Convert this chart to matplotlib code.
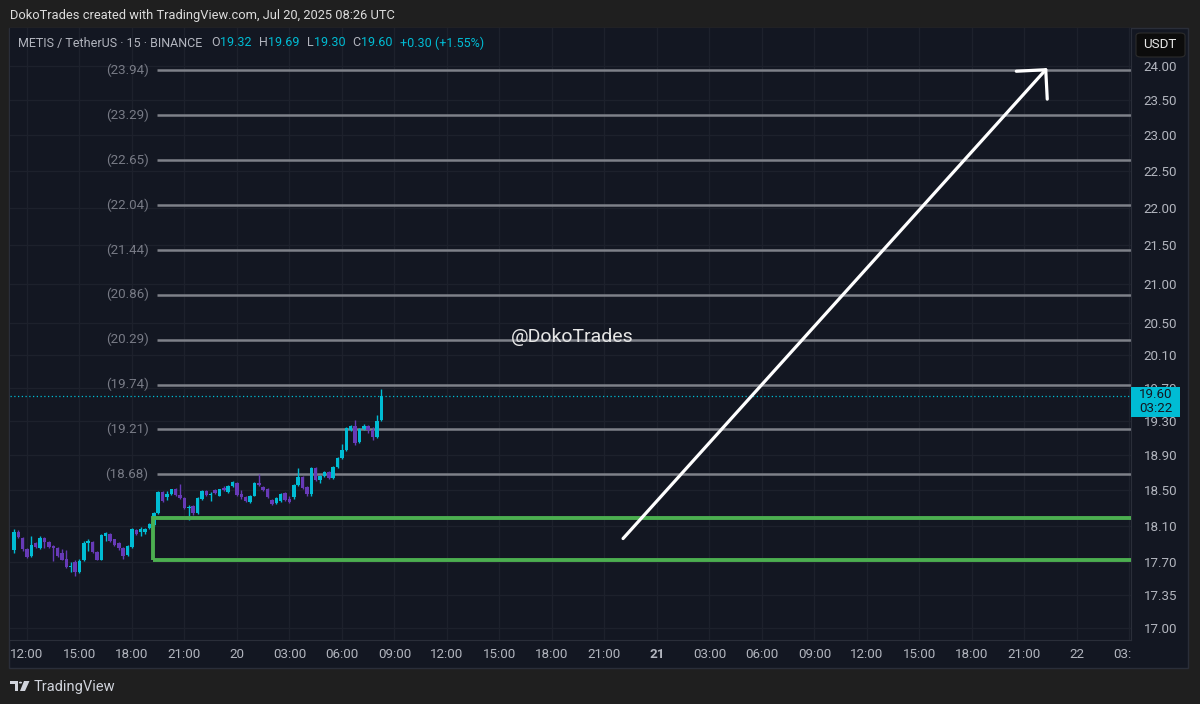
import numpy as np
import matplotlib
matplotlib.use('Agg')
import matplotlib.pyplot as plt
from matplotlib.patches import Rectangle, FancyBboxPatch, Polygon, Circle
from matplotlib.ticker import NullLocator

plt.rcParams['font.family'] = ['Roboto', 'DejaVu Sans']

# 15 min candles METIS/USDT, first one Jul 19 11:15 (x = hours from Jul 19 00:00)
opens = [17.83, 18.03, 17.97, 17.85, 17.77, 17.91, 17.86, 17.97, 17.92, 17.88,
         17.86, 17.80, 17.74, 17.65, 17.70, 17.59, 17.72, 17.91, 17.92, 17.81,
         17.73, 17.99, 18.01, 17.95, 17.91, 17.86, 17.78, 17.87, 18.05, 18.03,
         18.03, 18.08, 18.11, 18.24, 18.48, 18.42, 18.46, 18.52, 18.45, 18.41,
         18.30, 18.32, 18.24, 18.40, 18.49, 18.45, 18.50, 18.44, 18.53, 18.48,
         18.55, 18.58, 18.46, 18.42, 18.37, 18.44, 18.58, 18.54, 18.52, 18.39,
         18.36, 18.38, 18.47, 18.40, 18.42, 18.56, 18.65, 18.54, 18.46, 18.76,
         18.62, 18.66, 18.71, 18.64, 18.77, 18.87, 18.96, 19.20, 19.24, 19.06,
         19.21, 19.24, 19.20, 19.11, 19.32]
highs = [18.06, 18.05, 17.98, 17.86, 17.99, 17.92, 17.99, 17.98, 17.93, 17.89,
         17.87, 17.84, 17.83, 17.70, 17.72, 17.74, 17.93, 17.96, 17.93, 17.82,
         18.01, 18.03, 18.02, 17.96, 17.92, 17.87, 17.89, 18.08, 18.06, 18.09,
         18.08, 18.13, 18.25, 18.49, 18.49, 18.49, 18.52, 18.53, 18.57, 18.42,
         18.33, 18.33, 18.42, 18.50, 18.50, 18.48, 18.51, 18.52, 18.55, 18.56,
         18.60, 18.59, 18.50, 18.43, 18.45, 18.59, 18.68, 18.55, 18.53, 18.40,
         18.42, 18.47, 18.48, 18.43, 18.57, 18.75, 18.66, 18.55, 18.77, 18.77,
         18.67, 18.72, 18.72, 18.78, 18.88, 19.03, 19.23, 19.26, 19.31, 19.22,
         19.27, 19.26, 19.23, 19.37, 19.69]
lows = [17.80, 17.97, 17.82, 17.75, 17.76, 17.86, 17.84, 17.86, 17.86, 17.71,
        17.76, 17.72, 17.64, 17.60, 17.55, 17.58, 17.71, 17.82, 17.80, 17.72,
        17.72, 17.93, 17.92, 17.88, 17.83, 17.74, 17.77, 17.86, 18.00, 17.99,
        18.01, 18.07, 18.10, 18.23, 18.37, 18.39, 18.45, 18.44, 18.40, 18.29,
        18.17, 18.22, 18.23, 18.39, 18.44, 18.38, 18.46, 18.43, 18.49, 18.47,
        18.54, 18.44, 18.40, 18.37, 18.36, 18.43, 18.55, 18.49, 18.41, 18.33,
        18.34, 18.37, 18.38, 18.36, 18.40, 18.55, 18.52, 18.44, 18.44, 18.61,
        18.58, 18.65, 18.63, 18.63, 18.76, 18.86, 18.95, 19.19, 19.02, 19.05,
        19.20, 19.16, 19.08, 19.10, 19.30]
closes = [18.03, 17.98, 17.84, 17.76, 17.89, 17.87, 17.97, 17.92, 17.87, 17.86,
          17.77, 17.73, 17.65, 17.66, 17.59, 17.71, 17.91, 17.93, 17.81, 17.73,
          18.00, 18.02, 17.93, 17.89, 17.86, 17.77, 17.88, 18.06, 18.01, 18.06,
          18.07, 18.12, 18.24, 18.48, 18.38, 18.46, 18.51, 18.45, 18.41, 18.30,
          18.31, 18.24, 18.41, 18.49, 18.45, 18.46, 18.47, 18.51, 18.50, 18.55,
          18.59, 18.45, 18.42, 18.38, 18.44, 18.58, 18.56, 18.50, 18.42, 18.35,
          18.41, 18.46, 18.39, 18.37, 18.56, 18.65, 18.53, 18.46, 18.76, 18.62,
          18.66, 18.71, 18.64, 18.77, 18.87, 18.96, 19.22, 19.24, 19.05, 19.21,
          19.24, 19.20, 19.11, 19.30, 19.60]
first_candle = 11.25
step = 0.25

levels = [23.94, 23.29, 22.65, 22.04, 21.44, 20.86, 20.29, 19.74, 19.21, 18.68]
level_start = 19.43
zone_low, zone_high = 17.72, 18.19
zone_start = 19.2
arrow_from = (46.06, 17.96)
arrow_to = (70.3, 23.97)
last_price = 19.60

price_ticks = [24.00, 23.50, 23.00, 22.50, 22.00, 21.50, 21.00, 20.50, 20.10,
               19.70, 19.30, 18.90, 18.50, 18.10, 17.70, 17.35, 17.00]
time_ticks = list(range(12, 76, 3))
time_labels = ['12:00', '15:00', '18:00', '21:00', '20', '03:00', '06:00', '09:00',
               '12:00', '15:00', '18:00', '21:00', '21', '03:00', '06:00', '09:00',
               '12:00', '15:00', '18:00', '21:00', '22', '03:00']

UP = '#00bcd4'
DOWN = '#673ab7'
PANEL = '#131722'
OUTER = '#1f1f1f'
GRIDC = '#1d212c'
TXT = '#b2b5be'
FS = 9.6


def fx(px):
    return px / 1200


def fy(py):
    return 1 - py / 704


fig = plt.figure(figsize=(12, 7.04), dpi=100, facecolor=OUTER)

# chart panel (behind the axes)
fig.patches.append(Rectangle((fx(9), fy(668)), fx(1179), 640 / 704, transform=fig.transFigure,
                             facecolor=PANEL, edgecolor='#2a2e39', lw=1, zorder=-5))

ax = fig.add_axes([fx(10), fy(640), fx(1121), 612 / 704])
ax.set_facecolor(PANEL)
ax.set_yscale('log')
ax.set_ylim(24 * np.exp(-574 / 1630), 24 * np.exp(38 / 1630))
ax.set_xlim(12 - 17 / 17.5, 12 + 1104 / 17.5)
ax.yaxis.set_minor_locator(NullLocator())
ax.set_yticks(price_ticks)
ax.set_yticklabels([f'{p:.2f}' for p in price_ticks])
ax.yaxis.tick_right()
ax.set_xticks(time_ticks)
ax.tick_params(axis='x', length=0, labelbottom=False)
ax.tick_params(axis='y', length=0, pad=9, colors=TXT, labelsize=FS)
ax.grid(True, color=GRIDC, lw=0.9)
ax.set_axisbelow(True)
for s in ['top', 'left']:
    ax.spines[s].set_visible(False)
for s in ['right', 'bottom']:
    ax.spines[s].set_color('#2a2e39')

# candles
t = first_candle + step * np.arange(len(opens))
o = np.array(opens)
c = np.array(closes)
cols = [UP if cc >= oo else DOWN for oo, cc in zip(o, c)]
ax.vlines(t, lows, highs, colors=cols, lw=1.0, zorder=3)
ax.bar(t, np.maximum(np.abs(c - o), 0.012), bottom=np.minimum(o, c), width=0.2,
       color=cols, zorder=4)

# horizontal levels with labels
ax.hlines(levels, level_start, 80, color='#7e8189', lw=1.8, zorder=2)
for lv in levels:
    ax.text(18.95, lv, f'({lv:.2f})', ha='right', va='center', color='#787b86', fontsize=FS)

# zone box
ax.add_patch(Rectangle((zone_start, zone_low), 80, zone_high - zone_low, fill=False,
                       edgecolor='#4caf50', lw=2.8, zorder=5))

# current price line
ax.axhline(last_price, color=UP, ls=(0, (1, 2)), lw=0.9, zorder=2)

# arrow
ax.annotate('', xy=arrow_to, xytext=arrow_from,
            arrowprops=dict(arrowstyle='->,head_length=0.5,head_width=0.5', color='white',
                            lw=2.3, mutation_scale=30, shrinkA=0, shrinkB=0), zorder=6)

ax.text(43.14, 20.33, '@DokoTrades', ha='center', va='center', color='#e6e6e6', fontsize=14)

# time axis labels (clipped at the price scale)
axt = fig.add_axes([fx(10), fy(668), fx(1121), 28 / 704])
axt.set_xlim(ax.get_xlim())
axt.set_ylim(0, 1)
axt.axis('off')
for tt, lab in zip(time_ticks, time_labels):
    axt.text(tt, 0.48, lab, ha='center', va='center', color=TXT, fontsize=FS,
             fontweight='bold' if lab == '21' else 'normal', clip_on=True)

# last price tag
fig.patches.append(Rectangle((fx(1131), fy(417)), fx(49), 30 / 704, transform=fig.transFigure,
                             facecolor=UP, edgecolor='none', zorder=5))
fig.text(fx(1156), fy(395), '19.60', ha='center', va='center', color=PANEL, fontsize=FS, zorder=6)
fig.text(fx(1156), fy(409), '03:22', ha='center', va='center', color=PANEL, fontsize=FS, zorder=6)

# USDT button
fig.patches.append(FancyBboxPatch((fx(1136), fy(57)), fx(49), 24 / 704, transform=fig.transFigure,
                                  boxstyle='round,pad=0,rounding_size=0.004', facecolor='#0c0c0c',
                                  edgecolor='#2c2c2c', lw=0.8, zorder=5))
fig.text(fx(1160), fy(45), 'USDT', ha='center', va='center', color='#e8e8e8', fontsize=FS, zorder=6)

# header
fig.text(fx(10), fy(15), 'DokoTrades created with TradingView.com, Jul 20, 2025 08:26 UTC',
         ha='left', va='center', color='#dcdcdc', fontsize=9.3)

legend = [('METIS / TetherUS · 15 · BINANCE', 18, TXT), ('O', 211, TXT), ('19.32', 220, UP),
          ('H', 259, TXT), ('19.69', 268, UP), ('L', 307, TXT), ('19.30', 314, UP),
          ('C', 352, TXT), ('19.60', 361, UP), ('+0.30 (+1.55%)', 400, UP)]
for s, px, col in legend:
    fig.text(fx(px), fy(43), s, ha='left', va='center', color=col, fontsize=9.0)

# TradingView logo
lc = '#d1d4dc'
fig.patches.append(Polygon([(fx(10), fy(681)), (fx(18), fy(681)), (fx(18), fy(691)), (fx(14.5), fy(691)),
                            (fx(14.5), fy(684)), (fx(10), fy(684))], closed=True,
                           transform=fig.transFigure, facecolor=lc, edgecolor='none'))
fig.patches.append(Circle((fx(20.5), fy(682.6)), 1.6 / 1200, transform=fig.transFigure,
                          facecolor=lc, edgecolor='none'))
fig.patches.append(Polygon([(fx(24), fy(681)), (fx(29.5), fy(681)), (fx(25), fy(691)), (fx(20), fy(691))],
                           closed=True, transform=fig.transFigure, facecolor=lc, edgecolor='none'))
fig.text(fx(34), fy(687), 'TradingView', ha='left', va='center', color=lc, fontsize=10.5)

fig.savefig('out.png', dpi=100, facecolor=OUTER)
